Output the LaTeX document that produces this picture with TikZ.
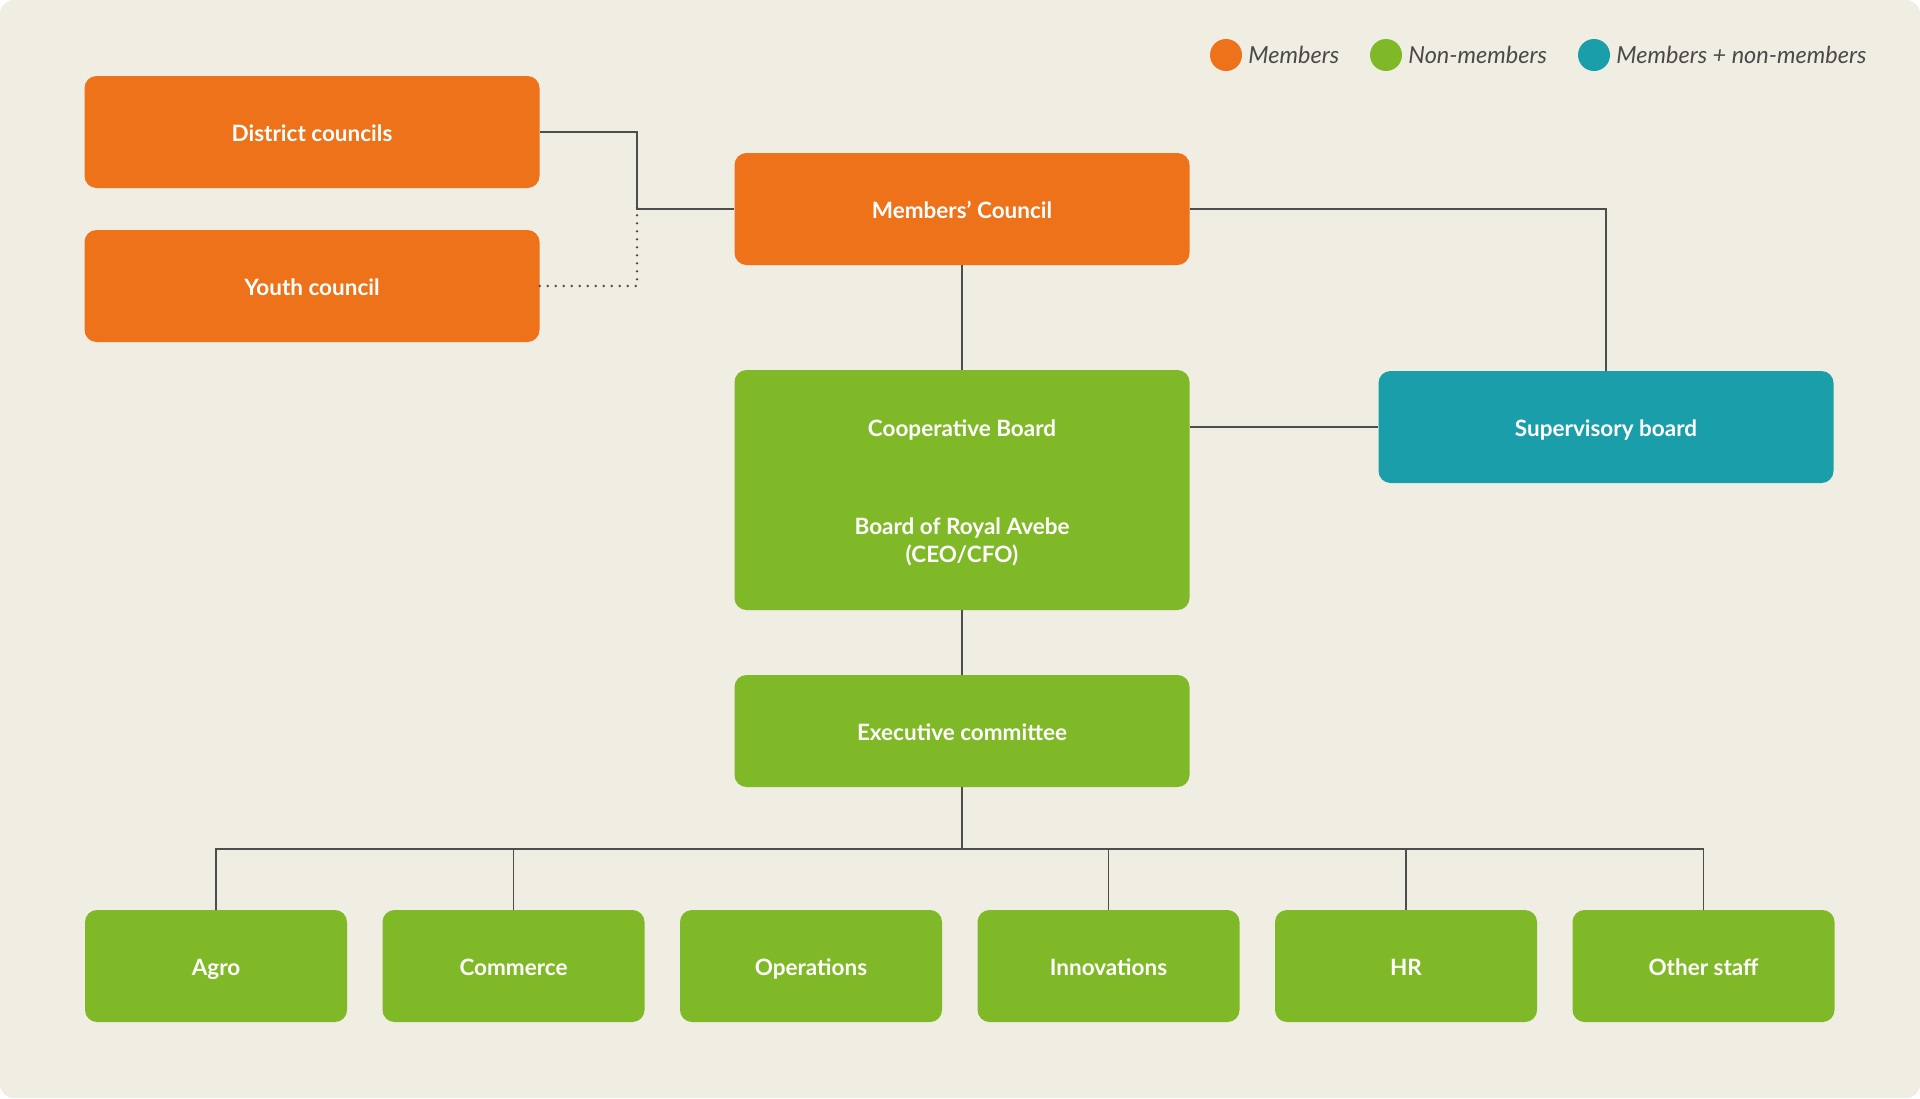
\documentclass[tikz,border=0pt]{standalone}
\usepackage{fontspec}
\setmainfont{Lato}
\definecolor{bgc}{HTML}{F0EDE3}
\definecolor{org}{HTML}{EE7219}
\definecolor{grn}{HTML}{80B927}
\definecolor{teal}{HTML}{1A9EAA}
\definecolor{linec}{HTML}{4D4D4D}
\definecolor{txtc}{HTML}{4A4A4A}
\tikzset{
  boxfont/.style={text=white, font=\bfseries\fontsize{22.5}{27}\selectfont},
  box/.style={boxfont, rounded corners=12pt, inner sep=0pt, minimum width=455pt, minimum height=112pt, text height=19pt, text depth=1pt},
  smallbox/.style={box, minimum width=262pt},
  conn/.style={draw=linec, line width=1.7pt},
  dotconn/.style={draw=linec, line width=2.6pt, line cap=round, dash pattern=on 0pt off 8pt},
  legdot/.style={circle, inner sep=0pt, minimum size=32pt},
  legtxt/.style={anchor=west, inner sep=0pt, text=txtc, font=\itshape\fontsize{23.5}{28}\selectfont},
}
\begin{document}
\begin{tikzpicture}[x=1pt, y=-1pt]
\useasboundingbox (0,0) rectangle (1920,1098);
\fill[white] (0,0) rectangle (1920,1098);
\fill[bgc, rounded corners=14pt] (0,0) rectangle (1920,1098);

% legend
\node[legdot, fill=org] (lm) at (1226,55) {};
\node[legtxt] (lmt) at ([xshift=6pt]lm.east) {Members};
\node[legdot, fill=grn] (ln) at (1386,55) {};
\node[legtxt] (lnt) at ([xshift=6pt]ln.east) {Non-members};
\node[legdot, fill=teal] (lb) at (1594,55) {};
\node[legtxt] (lbt) at ([xshift=6pt]lb.east) {Members + non-members};

% boxes
\node[box, fill=org] (dc) at (312,132) {District councils};
\node[box, fill=org] (yc) at (312,286) {Youth council};
\node[box, fill=org] (mc) at (962,209) {Members' Council};
\node[box, fill=grn, minimum height=240pt] (cb) at (962,490) {};
\node[boxfont, inner sep=0pt, text height=19pt, text depth=1pt] (cbt) at (962,427) {Cooperative Board};
\node[boxfont, inner sep=0pt, align=center, font=\bfseries\fontsize{22.5}{28}\selectfont] (cbr) at (962,542) {Board of Royal Avebe\\(CEO/CFO)};
\node[box, fill=teal] (sb) at (1606,427) {Supervisory board};
\node[box, fill=grn] (ec) at (962,731) {Executive committee};

\node[smallbox, fill=grn] (agro) at (216,966) {Agro};
\node[smallbox, fill=grn] (comm) at (513.5,966) {Commerce};
\node[smallbox, fill=grn] (oper) at (811,966) {Operations};
\node[smallbox, fill=grn] (inno) at (1108.5,966) {Innovations};
\node[smallbox, fill=grn] (hr) at (1406,966) {HR};
\node[smallbox, fill=grn] (oth) at (1703.5,966) {Other staff};

% connectors
\coordinate (j) at (637,209);
\draw[conn] (dc.east) -| (j) -- (mc.west);
\draw[dotconn] (yc.east) -| ([yshift=8pt]j);
\draw[conn] (mc.east) -| (sb.north);
\draw[conn] (mc.south) -- (cb.north);
\draw[conn] (sb.west) -- (sb.west -| cb.east);
\draw[conn] (cb.south) -- (ec.north);
\coordinate (bus) at (962,849);
\draw[conn] (ec.south) -- (bus);
\foreach \b in {agro, comm, inno, hr, oth} {
  \draw[conn] (bus) -| (\b.north);
}
\end{tikzpicture}
\end{document}
